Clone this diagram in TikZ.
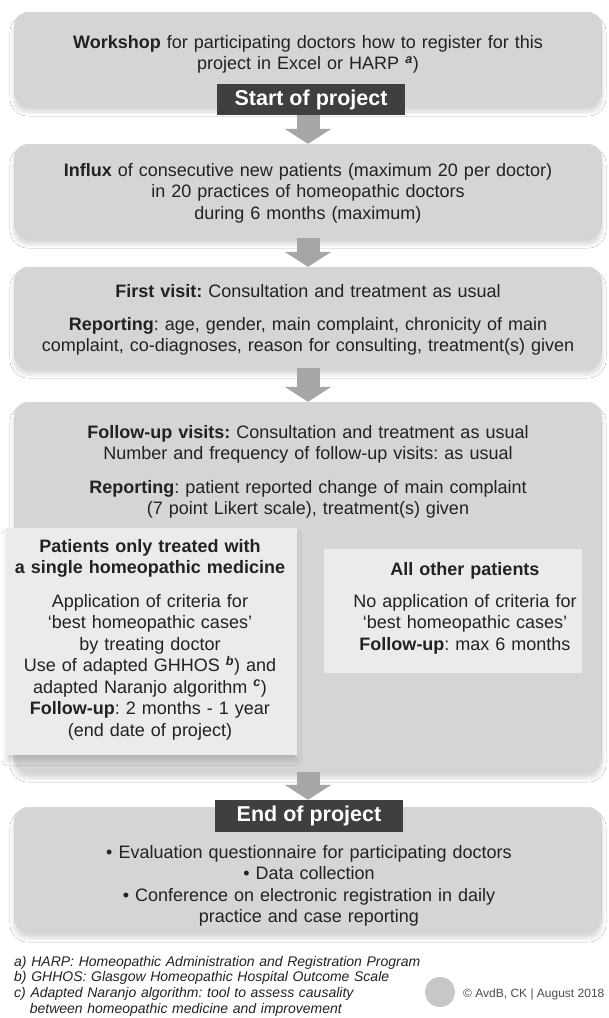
\documentclass[tikz,border=0pt]{standalone}
\usepackage{fontspec}
\setmainfont{Liberation Sans}
\usetikzlibrary{arrows.meta,shadows.blur}

\definecolor{boxgray}{HTML}{D5D5D5}
\definecolor{subgray}{HTML}{EBEBEB}
\definecolor{tagdark}{HTML}{3F3F3F}
\definecolor{arrowgray}{HTML}{A6A6A6}
\definecolor{inkgray}{HTML}{222222}

\begin{document}
\frenchspacing
\begin{tikzpicture}[x=1pt,y=-1pt,
    stage/.style={fill=boxgray, rounded corners=14pt, inner sep=0pt, minimum width=588pt,
      blur shadow={shadow xshift=0pt, shadow yshift=-6pt, shadow blur radius=4pt, shadow blur steps=10, shadow opacity=16}},
    subbox/.style={fill=subgray, inner sep=0pt},
    tag/.style={fill=tagdark, text=white, inner sep=0pt, minimum width=188pt,
      font=\fontsize{21.5}{24}\selectfont\bfseries},
    txt/.style={anchor=base, align=center, inner sep=0pt, text=inkgray,
      font=\fontsize{18}{21.5}\selectfont},
    flow/.style={draw=arrowgray, line width=23pt, -{Triangle[width=46pt,length=15pt]}}]
   \useasboundingbox[fill=white] (0,0) rectangle (609,1018);

   % main stages
   \node[stage, minimum height=94pt]  (workshop) at (308,59) {};
   \node[stage, minimum height=94pt]  (influx)   at (308,191) {};
   \node[stage, minimum height=101pt] (firstvis) at (308,317.5) {};
   \node[stage, minimum height=370pt] (followup) at (308,587) {};
   \node[stage, minimum height=125pt] (projend)  at (308,869.5) {};

   % two groups of patients
   \node[subbox, minimum width=291pt, minimum height=227pt,
     blur shadow={shadow xshift=0pt, shadow yshift=-6pt, shadow blur radius=4pt, shadow blur steps=10, shadow opacity=14}]
     (single) at (151.5,641.5) {};
   \node[subbox, minimum width=258pt, minimum height=124pt] (others) at (453,611) {};

   \node[tag, minimum height=31pt] (starttag) at (311,99.5) {Start of project};
   \node[tag, minimum height=32pt] (endtag)   at (309,816) {End of project};

   \node[txt, text width=580pt] (workshoptxt) at (308,48)
     {\textbf{Workshop} for participating doctors how to register for this\\
      project in Excel or HARP \textsuperscript{\textbf{\textit{a}}})};
   \node[txt, text width=580pt] (influxtxt) at (308,176)
     {\textbf{Influx} of consecutive new patients (maximum 20 per doctor)\\
      in 20 practices of homeopathic doctors\\
      during 6 months (maximum)};
   \node[txt, text width=580pt] (firstvistxt) at (308,297)
     {\textbf{First visit:} Consultation and treatment as usual\\[11.5pt]
      \textbf{Reporting}: age, gender, main complaint, chronicity of main\\
      complaint, co-diagnoses, reason for consulting, treatment(s) given};
   \node[txt, text width=580pt] (followuptxt) at (308,438)
     {\textbf{Follow-up visits:} Consultation and treatment as usual\\
      Number and frequency of follow-up visits: as usual\\[12pt]
      \textbf{Reporting}: patient reported change of main complaint\\
      (7 point Likert scale), treatment(s) given};
   \node[txt, text width=288pt] (singletxt) at (150,552)
     {\textbf{Patients only treated with}\\
      \textbf{a single homeopathic medicine}\\[12pt]
      Application of criteria for\\
      `best homeopathic cases'\\
      by treating doctor\\
      Use of adapted GHHOS \textsuperscript{\textbf{\textit{b}}}) and\\
      adapted Naranjo algorithm \textsuperscript{\textbf{\textit{c}}})\\
      \textbf{Follow-up}: 2 months - 1 year\\
      (end date of project)};
   \node[txt, text width=250pt] (otherstxt) at (465,575)
     {\textbf{All other patients}\\[10.5pt]
      No application of criteria for\\
      `best homeopathic cases'\\
      \textbf{Follow-up}: max 6 months};
   \node[txt, text width=580pt] (projendtxt) at (309,858)
     {• Evaluation questionnaire for participating doctors\\
      • Data collection\\
      • Conference on electronic registration in daily\\
      practice and case reporting};

   % arrows between the stages
   \draw[flow] (starttag.south -| influx.north) -- (influx.north);
   \draw[flow] (influx.south) -- (firstvis.north);
   \draw[flow] (firstvis.south) -- (followup.north);
   \draw[flow] (followup.south) -- (endtag.north -| followup.south);

   % footnotes
   \node[anchor=base west, align=left, text width=420pt, inner sep=0pt, text=inkgray,
     font=\fontsize{14}{15.7}\selectfont\itshape] (notes) at (14,966)
     {a) HARP: Homeopathic Administration and Registration Program\\
      b) GHHOS: Glasgow Homeopathic Hospital Outcome Scale\\
      c) Adapted Naranjo algorithm: tool to assess causality\\
      \hspace*{15.6pt}between homeopathic medicine and improvement};
   \node[circle, fill=black!22, minimum size=30pt, inner sep=0pt] (logo) at (440,992) {};
   \node[anchor=base west, inner sep=0pt, text=black!70,
     font=\fontsize{12}{14}\selectfont] (credit) at (463,997) {© AvdB, CK | August 2018};
\end{tikzpicture}
\end{document}
